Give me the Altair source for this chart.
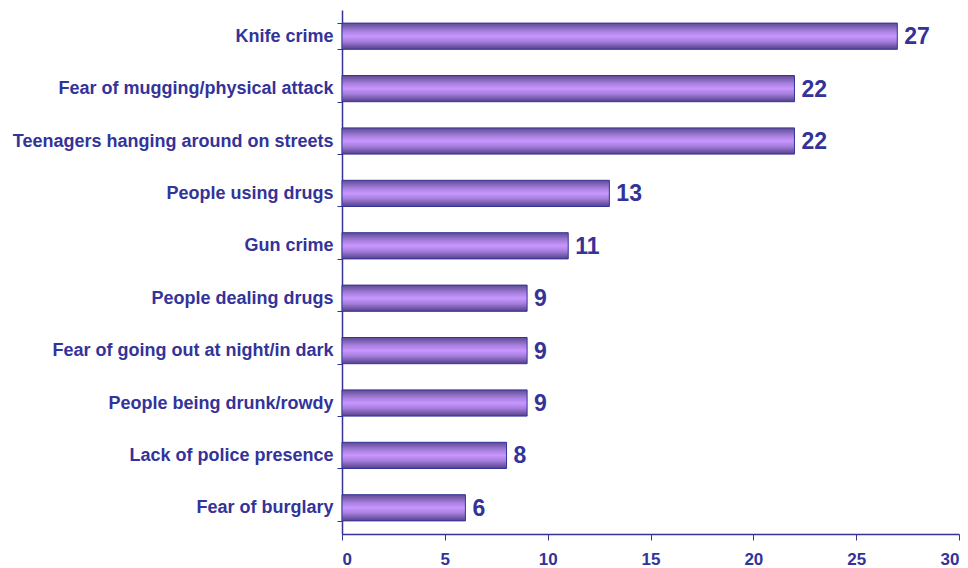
import altair as alt
import pandas as pd

categories = [
    "Knife crime",
    "Fear of mugging/physical attack",
    "Teenagers hanging around on streets",
    "People using drugs",
    "Gun crime",
    "People dealing drugs",
    "Fear of going out at night/in dark",
    "People being drunk/rowdy",
    "Lack of police presence",
    "Fear of burglary",
]
values = [27, 22, 22, 13, 11, 9, 9, 9, 8, 6]
x_ticks = [0, 5, 10, 15, 20, 25, 30]

df = pd.DataFrame({"category": categories, "value": values})

NAVY = "#333399"
FONT = "Liberation Sans"

grad = alt.Gradient(
    gradient="linear",
    x1=0, y1=0, x2=0, y2=1,
    stops=[
        alt.GradientStop(offset=0, color="#5e4a94"),
        alt.GradientStop(offset=0.3, color="#a67fdd"),
        alt.GradientStop(offset=0.5, color="#c896ff"),
        alt.GradientStop(offset=0.7, color="#a67fdd"),
        alt.GradientStop(offset=1, color="#54408a"),
    ],
)

y_enc = alt.Y(
    "category:N",
    sort=categories,
    scale=alt.Scale(paddingInner=0.5, paddingOuter=0.25),
    axis=alt.Axis(
        title=None,
        tickBand="extent",
        labelFont=FONT,
        labelFontWeight="bold",
        labelFontSize=18,
        labelColor=NAVY,
        labelPadding=4,
        labelLimit=400,
        tickColor=NAVY,
        tickSize=5,
        domainColor=NAVY,
        domainWidth=1.5,
        grid=False,
    ),
)

x_enc = alt.X(
    "value:Q",
    scale=alt.Scale(domain=[0, 30], nice=False),
    axis=alt.Axis(
        title=None,
        values=x_ticks,
        labelFont=FONT,
        labelFontWeight="bold",
        labelFontSize=17,
        labelColor=NAVY,
        labelPadding=11,
        tickColor=NAVY,
        tickSize=6,
        domainColor=NAVY,
        domainWidth=1.5,
        grid=False,
    ),
)

bars = alt.Chart(df).mark_bar(
    color=grad, stroke=NAVY, strokeWidth=1
).encode(x=x_enc, y=y_enc)

labels = alt.Chart(df).mark_text(
    align="left", baseline="middle", dx=7, dy=1,
    font=FONT, fontWeight="bold", fontSize=23, color=NAVY
).encode(
    x=alt.X("value:Q"),
    y=alt.Y("category:N", sort=categories),
    text="value:Q",
)

chart = (
    alt.layer(bars, labels)
    .properties(
        width=617,
        height=524,
        padding={"left": 342, "top": 10, "right": 9, "bottom": 34},
        autosize=alt.AutoSizeParams(type="none"),
        background="white",
    )
    .configure_view(stroke=None)
)

chart.save("out.html", embed_options={"renderer": "svg", "actions": False})
